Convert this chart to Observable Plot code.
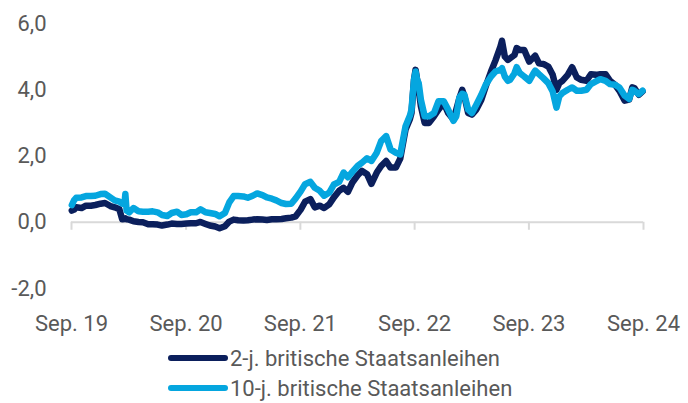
<!DOCTYPE html>
<html><head><meta charset="utf-8">
<script src="https://cdn.jsdelivr.net/npm/d3@7"></script>
<script src="https://cdn.jsdelivr.net/npm/@observablehq/plot@0.6"></script>
<style>
body{margin:0;background:#fff;font-family:Roboto,"Liberation Sans",sans-serif;}
#wrap{position:relative;width:688px;height:403px;overflow:hidden;}
#legend{position:relative;height:63px;color:#595959;font-size:22px;}
.row{position:absolute;left:168px;height:30px;display:flex;align-items:center;white-space:nowrap;}
.sw{width:60px;height:6px;border-radius:3px;margin-right:2px;}
</style>
</head><body>
<div id="wrap"><div id="chart"></div><div id="legend"></div></div>
<script>
const dates = [
"2019-10-01","2019-10-08","2019-10-15","2019-11-01","2019-11-15","2019-12-01","2019-12-15",
"2020-01-01","2020-01-15","2020-02-01","2020-02-15","2020-03-01","2020-03-10","2020-03-17","2020-03-20","2020-03-24","2020-04-01","2020-04-15","2020-05-01","2020-05-15","2020-06-01","2020-06-15","2020-07-01","2020-07-15","2020-08-01","2020-08-15","2020-09-01","2020-09-15","2020-10-01","2020-10-15","2020-11-01","2020-11-15","2020-12-01","2020-12-15",
"2021-01-01","2021-01-15","2021-02-01","2021-02-15","2021-03-01","2021-03-15","2021-04-01","2021-04-15","2021-05-01","2021-05-15","2021-06-01","2021-06-15","2021-07-01","2021-07-15","2021-08-01","2021-08-15","2021-09-01","2021-09-15","2021-10-01","2021-10-15","2021-11-01","2021-11-15","2021-12-01","2021-12-15",
"2022-01-01","2022-01-15","2022-02-01","2022-02-15","2022-03-01","2022-03-15","2022-04-01","2022-04-15","2022-05-01","2022-05-15","2022-06-01","2022-06-15","2022-07-01","2022-07-15","2022-08-01","2022-08-15","2022-09-01","2022-09-15","2022-09-20","2022-09-28","2022-10-03","2022-10-08","2022-10-13","2022-10-20","2022-11-01","2022-11-15","2022-12-01","2022-12-15",
"2023-01-01","2023-01-15","2023-02-01","2023-02-10","2023-02-20","2023-03-01","2023-03-08","2023-03-20","2023-04-01","2023-04-15","2023-05-01","2023-05-15","2023-06-01","2023-06-15","2023-07-01","2023-07-06","2023-07-15","2023-07-25","2023-08-01","2023-08-15","2023-08-22","2023-09-01","2023-09-15","2023-10-01","2023-10-15","2023-10-20","2023-11-01","2023-11-15","2023-12-01","2023-12-15","2023-12-27",
"2024-01-05","2024-01-15","2024-02-01","2024-02-15","2024-03-01","2024-03-15","2024-04-01","2024-04-15","2024-05-01","2024-05-15","2024-06-01","2024-06-15","2024-07-01","2024-07-15","2024-08-01","2024-08-15","2024-08-25","2024-09-01","2024-09-15","2024-09-27"
];
const twoYear = [
0.35,0.38,0.45,0.43,0.50,0.50,0.52,
0.56,0.58,0.49,0.45,0.39,0.09,0.10,0.12,0.09,0.08,0.03,0.01,0.00,-0.06,-0.06,-0.07,-0.10,-0.07,-0.04,-0.05,-0.05,-0.04,-0.03,-0.03,0.01,-0.05,-0.10,
-0.13,-0.18,-0.12,0.02,0.08,0.06,0.05,0.06,0.08,0.09,0.08,0.07,0.09,0.09,0.10,0.12,0.14,0.18,0.38,0.62,0.70,0.45,0.50,0.43,
0.55,0.75,0.95,1.04,0.92,1.20,1.42,1.55,1.45,1.16,1.50,1.70,1.85,1.65,1.65,1.92,2.80,3.12,3.30,4.30,4.60,4.30,4.00,3.50,3.00,3.00,3.20,3.40,
3.60,3.30,3.10,3.40,3.75,4.00,3.80,3.30,3.25,3.40,3.70,4.10,4.55,4.88,5.30,5.48,5.00,4.90,4.95,5.05,5.26,5.20,5.20,4.85,4.98,5.03,4.80,4.78,4.70,4.45,4.00,
4.20,4.27,4.45,4.68,4.37,4.30,4.27,4.47,4.45,4.47,4.47,4.27,4.15,3.97,3.67,3.70,4.07,4.05,3.85,3.95
];
const tenYear = [
0.52,0.66,0.74,0.75,0.79,0.79,0.80,
0.85,0.86,0.75,0.66,0.62,0.56,0.55,0.85,0.35,0.30,0.43,0.33,0.32,0.32,0.33,0.30,0.22,0.19,0.28,0.32,0.22,0.24,0.30,0.30,0.39,0.30,0.28,
0.25,0.18,0.28,0.60,0.79,0.79,0.78,0.74,0.80,0.87,0.82,0.75,0.71,0.66,0.58,0.55,0.56,0.72,0.93,1.15,1.22,1.04,0.95,0.80,
0.90,1.14,1.22,1.50,1.36,1.52,1.70,1.80,1.93,1.85,2.10,2.45,2.60,2.20,2.10,2.05,2.90,3.22,3.40,4.30,4.55,4.30,4.20,3.70,3.20,3.20,3.30,3.65,
3.65,3.40,3.06,3.20,3.77,3.88,3.85,3.40,3.30,3.55,3.85,4.15,4.40,4.55,4.60,4.65,4.40,4.27,4.30,4.50,4.68,4.50,4.40,4.27,4.50,4.58,4.47,4.35,4.20,3.95,3.46,
3.80,3.90,4.00,4.07,3.97,3.97,4.00,4.17,4.25,4.32,4.27,4.17,4.15,4.07,3.82,3.72,4.00,3.97,3.87,3.97
];
const seriesNames = ["2-j. britische Staatsanleihen", "10-j. britische Staatsanleihen"];
const seriesColors = ["#0b1f5c", "#05a6df"];
const yTicks = [-2, 0, 2, 4, 6];
const xTickDates = ["2019-09-30","2020-09-30","2021-09-30","2022-09-30","2023-09-30","2024-09-30"];
const xTickLabels = ["Sep. 19","Sep. 20","Sep. 21","Sep. 22","Sep. 23","Sep. 24"];

const n = Math.min(dates.length, twoYear.length, tenYear.length);
const rows2 = [], rows10 = [];
for (let i = 0; i < n; i++) {
  rows2.push({date: new Date(dates[i]), value: twoYear[i]});
  rows10.push({date: new Date(dates[i]), value: tenYear[i]});
}
const tickObjs = xTickDates.map(d => new Date(d));
const fmtX = d => { const i = tickObjs.findIndex(t => +t === +d); return i >= 0 ? xTickLabels[i] : ""; };

const chart = Plot.plot({
  width: 688, height: 340,
  marginLeft: 71, marginRight: 45, marginTop: 23, marginBottom: 52,
  x: {type: "utc", domain: [tickObjs[0], tickObjs[tickObjs.length - 1]]},
  y: {domain: [-2, 6]},
  style: {fontFamily: "Roboto, sans-serif", fontSize: "22px", color: "#595959", background: "#fff"},
  marks: [
    Plot.axisY({ticks: yTicks, tickSize: 0, tickPadding: 25, tickFormat: d => d.toFixed(1).replace(".", ","), label: null, fill: "#595959"}),
    Plot.axisX({ticks: tickObjs, tickSize: 0, tickPadding: 27, tickFormat: fmtX, label: null, fill: "#595959"}),
    Plot.ruleY([0], {stroke: "#d9d9d9", strokeWidth: 2}),
    Plot.ruleX(tickObjs, {x: d => d, y1: 0, y2: 0, insetBottom: -8, stroke: "#d9d9d9", strokeWidth: 2}),
    Plot.line(rows2, {x: "date", y: "value", stroke: seriesColors[0], strokeWidth: 6.5, strokeLinejoin: "round", strokeLinecap: "round"}),
    Plot.line(rows10, {x: "date", y: "value", stroke: seriesColors[1], strokeWidth: 6.5, strokeLinejoin: "round", strokeLinecap: "round"})
  ]
});
document.getElementById("chart").appendChild(chart);

const legend = document.getElementById("legend");
seriesNames.forEach((name, i) => {
  const row = document.createElement("div");
  row.className = "row";
  row.style.top = (3 + i * 30) + "px";
  const sw = document.createElement("div");
  sw.className = "sw";
  sw.style.background = seriesColors[i];
  const tx = document.createElement("span");
  tx.textContent = name;
  row.appendChild(sw); row.appendChild(tx);
  legend.appendChild(row);
});
</script>
</body></html>
